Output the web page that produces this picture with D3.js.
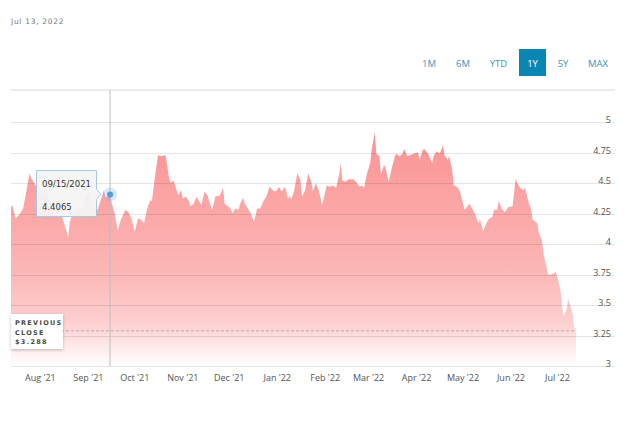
<!DOCTYPE html>
<html>
<head>
<meta charset="utf-8">
<script src="https://cdn.jsdelivr.net/npm/d3@7"></script>
<style>
  body { margin: 0; background: #fff; }
  svg { display: block; }
</style>
</head>
<body>
<svg id="chart" width="640" height="421"></svg>
<script>
// ---- data ----
const asOf = "Jul 13, 2022";
const ranges = ["1M", "6M", "YTD", "1Y", "5Y", "MAX"];
const activeRange = "1Y";

const dates = [
  "2021-07-13","2021-07-14","2021-07-16","2021-07-19","2021-07-21","2021-07-23","2021-07-25","2021-07-26","2021-07-28",
  "2021-07-30","2021-08-02","2021-08-04","2021-08-07","2021-08-09","2021-08-12","2021-08-15","2021-08-17","2021-08-19",
  "2021-08-20","2021-08-22","2021-08-25","2021-08-28","2021-08-30","2021-09-01","2021-09-03","2021-09-05","2021-09-07",
  "2021-09-09","2021-09-11","2021-09-12","2021-09-15","2021-09-16","2021-09-18","2021-09-20","2021-09-22","2021-09-25",
  "2021-09-27","2021-09-29","2021-10-01","2021-10-03","2021-10-05","2021-10-07","2021-10-09","2021-10-11","2021-10-12",
  "2021-10-14","2021-10-16","2021-10-18","2021-10-20","2021-10-21","2021-10-23","2021-10-24","2021-10-26","2021-10-28",
  "2021-10-29","2021-10-31","2021-11-01","2021-11-03","2021-11-05","2021-11-06","2021-11-08","2021-11-10","2021-11-11",
  "2021-11-13","2021-11-15","2021-11-17","2021-11-18","2021-11-20","2021-11-22","2021-11-25","2021-11-27","2021-11-28",
  "2021-11-30","2021-12-02","2021-12-03","2021-12-05","2021-12-07","2021-12-08","2021-12-10","2021-12-11","2021-12-13",
  "2021-12-15","2021-12-17","2021-12-19","2021-12-21","2021-12-23","2021-12-25","2021-12-27","2021-12-30","2022-01-01",
  "2022-01-02","2022-01-04","2022-01-06","2022-01-08","2022-01-09","2022-01-10","2022-01-12","2022-01-14","2022-01-16",
  "2022-01-17","2022-01-19","2022-01-21","2022-01-23","2022-01-24","2022-01-26","2022-01-28","2022-01-30","2022-01-31",
  "2022-02-02","2022-02-04","2022-02-06","2022-02-08","2022-02-10","2022-02-11","2022-02-12","2022-02-14","2022-02-16",
  "2022-02-19","2022-02-21","2022-02-23","2022-02-25","2022-02-26","2022-02-28","2022-03-02","2022-03-03","2022-03-05",
  "2022-03-06","2022-03-08","2022-03-09","2022-03-11","2022-03-12","2022-03-14","2022-03-16","2022-03-18","2022-03-19",
  "2022-03-21","2022-03-23","2022-03-24","2022-03-26","2022-03-28","2022-03-30","2022-04-02","2022-04-03","2022-04-05",
  "2022-04-06","2022-04-09","2022-04-11","2022-04-12","2022-04-14","2022-04-16","2022-04-18","2022-04-19","2022-04-21",
  "2022-04-22","2022-04-24","2022-04-25","2022-04-27","2022-04-29","2022-05-02","2022-05-04","2022-05-05","2022-05-07",
  "2022-05-09","2022-05-11","2022-05-12","2022-05-14","2022-05-16","2022-05-18","2022-05-20","2022-05-21","2022-05-23",
  "2022-05-24","2022-05-26","2022-05-28","2022-05-30","2022-06-02","2022-06-03","2022-06-04","2022-06-05","2022-06-07",
  "2022-06-09","2022-06-10","2022-06-12","2022-06-14","2022-06-15","2022-06-18","2022-06-19","2022-06-21","2022-06-22",
  "2022-06-24","2022-06-25","2022-06-27","2022-06-30","2022-07-01","2022-07-03","2022-07-04","2022-07-05","2022-07-07",
  "2022-07-08","2022-07-09","2022-07-11","2022-07-12","2022-07-13"
];

const prices = [
  4.30,4.32,4.21,4.25,4.30,4.44,4.58,4.54,4.50,
  4.46,4.40,4.48,4.36,4.33,4.28,4.22,4.14,4.06,
  4.18,4.26,4.32,4.27,4.38,4.42,4.35,4.30,4.28,
  4.36,4.44,4.38,4.4065,4.34,4.25,4.11,4.20,4.28,
  4.26,4.20,4.10,4.21,4.20,4.17,4.29,4.36,4.35,
  4.55,4.73,4.72,4.73,4.72,4.55,4.50,4.52,4.44,
  4.40,4.44,4.37,4.39,4.35,4.31,4.33,4.39,4.36,
  4.32,4.43,4.40,4.35,4.28,4.39,4.40,4.46,4.33,
  4.31,4.29,4.25,4.29,4.28,4.33,4.38,4.33,4.29,
  4.25,4.18,4.29,4.29,4.35,4.39,4.47,4.43,4.44,
  4.47,4.43,4.47,4.37,4.40,4.36,4.44,4.58,4.52,
  4.39,4.44,4.58,4.51,4.43,4.50,4.43,4.32,4.37,
  4.48,4.47,4.48,4.46,4.57,4.66,4.52,4.51,4.53,
  4.53,4.51,4.47,4.48,4.46,4.58,4.66,4.77,4.92,
  4.74,4.72,4.57,4.65,4.62,4.51,4.62,4.72,4.74,
  4.72,4.74,4.78,4.72,4.73,4.74,4.75,4.69,4.77,
  4.78,4.73,4.66,4.72,4.76,4.74,4.81,4.73,4.69,
  4.72,4.61,4.48,4.47,4.43,4.28,4.31,4.33,4.29,
  4.24,4.17,4.20,4.10,4.17,4.21,4.22,4.28,4.28,
  4.35,4.29,4.26,4.30,4.31,4.42,4.54,4.50,4.46,
  4.44,4.46,4.36,4.28,4.20,4.17,4.09,4.03,3.92,
  3.81,3.75,3.75,3.77,3.73,3.62,3.49,3.41,3.47,
  3.55,3.51,3.42,3.31,3.31
];

const yTicks = [3, 3.25, 3.5, 3.75, 4, 4.25, 4.5, 4.75, 5];
const previousClose = 3.288;
const hoverDate = "2021-09-15";
const hoverLabel = "09/15/2021";
const hoverValue = "4.4065";

// ---- layout ----
const plotLeft = 11, plotRight = 576, gridRight = 615;
const plotTop = 90, plotBottom = 366;
const parse = d3.utcParse("%Y-%m-%d");
const data = dates.map((d, i) => ({ date: parse(d), price: prices[i] }));

const x = d3.scaleUtc()
  .domain([parse("2021-07-13"), parse("2022-07-13")])
  .range([plotLeft, plotRight]);

const y = d3.scaleLinear()
  .domain([3, 5])
  .range([plotBottom, 122]);

const svg = d3.select("#chart");
const font = "'Open Sans', sans-serif";

// date stamp
svg.append("text")
  .attr("x", 11).attr("y", 24)
  .attr("font-family", "'DejaVu Sans', sans-serif")
  .attr("font-size", 7.5)
  .attr("letter-spacing", 0.7)
  .attr("fill", "#7a7a7a")
  .text(asOf);

// range buttons
const btnX = [429, 463, 498.5, 532.5, 563, 598];
const btns = svg.append("g").selectAll("g")
  .data(ranges)
  .join("g")
  .attr("transform", (d, i) => `translate(${btnX[i]}, 0)`);

btns.filter(d => d === activeRange)
  .append("rect")
  .attr("x", -13.5).attr("y", 49)
  .attr("width", 27).attr("height", 27)
  .attr("fill", "#0b86b3");

btns.append("text")
  .attr("y", 66.5)
  .attr("text-anchor", "middle")
  .attr("font-family", font)
  .attr("font-size", 9.5)
  .attr("fill", d => d === activeRange ? "#fff" : "#3d92bd")
  .text(d => d);

// gradient for the area
const defs = svg.append("defs");
const grad = defs.append("linearGradient")
  .attr("id", "fade")
  .attr("gradientUnits", "userSpaceOnUse")
  .attr("x1", 0).attr("x2", 0)
  .attr("y1", y(4.95)).attr("y2", plotBottom);
grad.append("stop").attr("offset", 0).attr("stop-color", "#fa9292");
grad.append("stop").attr("offset", 0.6).attr("stop-color", "#fcb6b6");
grad.append("stop").attr("offset", 0.82).attr("stop-color", "#fdd0d0");
grad.append("stop").attr("offset", 1).attr("stop-color", "#ffffff");

// top border
svg.append("line")
  .attr("x1", plotLeft).attr("x2", gridRight)
  .attr("y1", plotTop).attr("y2", plotTop)
  .attr("stroke", "#e6e6e6")
  .attr("stroke-width", 1.5);

// area
const area = d3.area()
  .x(d => x(d.date))
  .y0(plotBottom)
  .y1(d => y(d.price));

svg.append("path")
  .datum(data)
  .attr("d", area)
  .attr("fill", "url(#fade)");

// grid lines + y labels
const grid = svg.append("g").selectAll("g")
  .data(yTicks)
  .join("g");

grid.append("line")
  .attr("x1", plotLeft).attr("x2", gridRight)
  .attr("y1", d => Math.round(y(d)) + 0.5)
  .attr("y2", d => Math.round(y(d)) + 0.5)
  .attr("stroke", "#000")
  .attr("stroke-opacity", 0.1);

grid.append("text")
  .attr("x", 611)
  .attr("y", d => y(d) + 1)
  .attr("text-anchor", "end")
  .attr("font-family", font)
  .attr("font-size", 9)
  .attr("fill", "#555")
  .text(d => d);

// x axis labels
const months = d3.utcMonth.range(parse("2021-08-01"), parse("2022-07-02"));
svg.append("g").selectAll("text")
  .data(months)
  .join("text")
  .attr("x", d => x(d))
  .attr("y", 381)
  .attr("text-anchor", "middle")
  .attr("font-family", font)
  .attr("font-size", 9)
  .attr("fill", "#555")
  .text(d => d3.utcFormat("%b '%y")(d));

// previous close
svg.append("line")
  .attr("x1", plotLeft).attr("x2", plotRight)
  .attr("y1", y(previousClose)).attr("y2", y(previousClose))
  .attr("stroke", "#c28f8f")
  .attr("stroke-width", 0.8)
  .attr("stroke-dasharray", "3,2");

defs.append("filter")
  .attr("id", "shadow")
  .attr("x", -0.3).attr("y", -0.3).attr("width", 1.6).attr("height", 1.6)
  .append("feDropShadow")
  .attr("dx", 0).attr("dy", 1)
  .attr("stdDeviation", 1.5)
  .attr("flood-opacity", 0.25);

svg.append("rect")
  .attr("x", plotLeft).attr("y", 314)
  .attr("width", 52).attr("height", 35)
  .attr("fill", "#fff")
  .attr("filter", "url(#shadow)");

svg.append("text")
  .attr("font-family", "'DejaVu Sans', sans-serif")
  .attr("font-size", 6.5)
  .attr("font-weight", "bold")
  .attr("letter-spacing", 1.3)
  .attr("fill", "#4a4a4a")
  .selectAll("tspan")
  .data(["PREVIOUS", "CLOSE", "$" + previousClose])
  .join("tspan")
  .attr("x", 15)
  .attr("y", (d, i) => 325 + i * 9.5)
  .text(d => d);

// hover crosshair, point and tooltip
const hx = x(parse(hoverDate));
const hy = y(+hoverValue);

svg.append("line")
  .attr("x1", hx).attr("x2", hx)
  .attr("y1", plotTop).attr("y2", plotBottom)
  .attr("stroke", "#bdbdbd")
  .attr("stroke-width", 1);

svg.append("circle")
  .attr("cx", hx).attr("cy", hy).attr("r", 7)
  .attr("fill", "#7fb2e5").attr("fill-opacity", 0.3);
svg.append("circle")
  .attr("cx", hx).attr("cy", hy).attr("r", 3)
  .attr("fill", "#5a9ad6");

const tip = svg.append("g");
const tx = 36.5, ty = 170.5, tw = 60, th = 46;
tip.append("path")
  .attr("d", `M${tx},${ty} H${tx + tw} V${hy - 5} L${tx + tw + 4.5},${hy} L${tx + tw},${hy + 5} V${ty + th} H${tx} Z`)
  .attr("fill", "#f4f4f4")
  .attr("fill-opacity", 0.95)
  .attr("stroke", "#a8c6e6")
  .attr("stroke-width", 1);

tip.append("text")
  .attr("font-family", "'DejaVu Sans', sans-serif")
  .attr("font-size", 8.5)
  .attr("fill", "#333")
  .selectAll("tspan")
  .data([hoverLabel, hoverValue])
  .join("tspan")
  .attr("x", 42)
  .attr("y", (d, i) => 186.5 + i * 23)
  .text(d => d);
</script>
</body>
</html>
